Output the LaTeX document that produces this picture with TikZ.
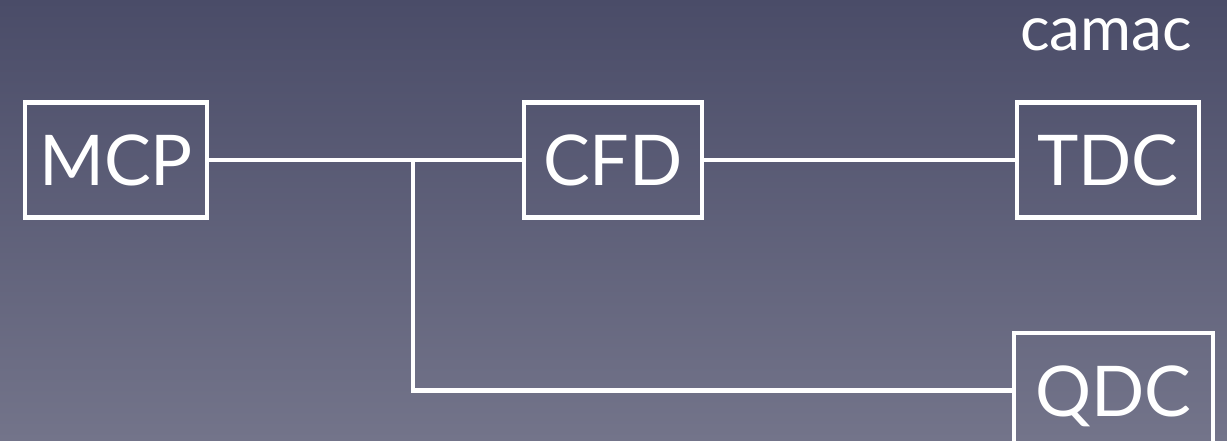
\documentclass[tikz,border=0pt]{standalone}
\usepackage{fontspec}
\setmainfont{Lato}
\begin{document}
\begin{tikzpicture}[x=0.5pt,y=-0.5pt,
  wire/.style={draw=white,line width=2.2pt},
  blk/.style={draw=white,line width=2.3pt,inner sep=0pt,text=white,
    font=\fontsize{35}{40}\selectfont,text height=25.5pt,text depth=0pt,
    minimum height=57.5pt},
  lbl/.style={text=white,inner sep=0pt,font=\fontsize{31}{36}\selectfont}]
\useasboundingbox (0,0) rectangle (1227,440);
\clip (0,0) rectangle (1227,440);
\shade[top color={rgb,255:red,74;green,76;blue,104},bottom color={rgb,255:red,115;green,116;blue,138}] (0,0) rectangle (1227,440);
\node[blk,minimum width=91pt] (mcp) at (116,160) {MCP};
\node[blk,minimum width=89pt] (cfd) at (613,160) {CFD};
\node[blk,minimum width=91pt] (tdc) at (1108,160) {TDC};
\node[blk,minimum width=99.5pt] (qdc) at (1113.5,390.5) {QDC};
\node[lbl,anchor=base] (camac) at (1106,50) {camac};
\coordinate (j) at (413,160);
\draw[wire] (mcp.east) -- (cfd.west);
\draw[wire] (cfd.east) -- (tdc.west);
\draw[wire] (j) -- (j |- qdc.west) -- (qdc.west);
\end{tikzpicture}
\end{document}
